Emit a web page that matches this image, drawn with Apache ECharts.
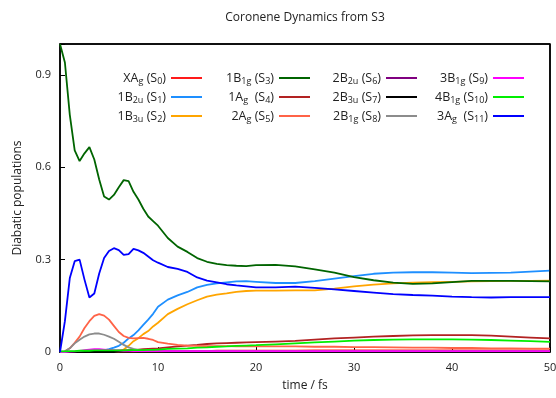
<!DOCTYPE html>
<html>
<head>
<meta charset="utf-8">
<script src="https://cdn.jsdelivr.net/npm/echarts@6/dist/echarts.min.js"></script>
<style>
html,body{margin:0;padding:0;background:#fff;}
#chart{width:556px;height:398px;}
</style>
</head>
<body>
<div id="chart"></div>
<script>
// time axis (fs)
var times = [0,0.5,1,1.5,2,2.5,3,3.5,4,4.5,5,5.5,6,6.5,7,7.5,8,8.5,9,9.5,10,11,12,13,14,15,16,17,18,19,20,22,24,26,28,30,32,34,36,38,40,42,44,46,48,50];

// diabatic populations per state
var s0 = [0,0,0,0,0,0,0,0,0,0,0.001,0.001,0.001,0.001,0.001,0.001,0.002,0.002,0.002,0.002,0.002,0.003,0.003,0.003,0.003,0.003,0.004,0.004,0.004,0.004,0.004,0.004,0.004,0.005,0.005,0.005,0.005,0.005,0.005,0.005,0.005,0.005,0.005,0.005,0.005,0.005];
var s1 = [0,0,0,0,0,0,0.001,0.001,0.002,0.005,0.009,0.014,0.02,0.03,0.044,0.055,0.07,0.088,0.105,0.124,0.147,0.17,0.184,0.195,0.21,0.218,0.223,0.226,0.229,0.23,0.228,0.224,0.224,0.23,0.238,0.246,0.254,0.258,0.259,0.259,0.258,0.256,0.257,0.258,0.261,0.264];
var s2 = [0,0,0,0,0,0,0,0,0,0,0,0,0.002,0.008,0.02,0.035,0.045,0.058,0.068,0.083,0.095,0.123,0.14,0.155,0.168,0.18,0.186,0.19,0.195,0.198,0.199,0.199,0.2,0.2,0.206,0.213,0.219,0.223,0.225,0.227,0.228,0.229,0.23,0.231,0.231,0.232];
var s3 = [1.0,0.94,0.77,0.655,0.62,0.645,0.665,0.625,0.56,0.505,0.495,0.51,0.535,0.558,0.555,0.52,0.495,0.465,0.44,0.425,0.41,0.37,0.342,0.325,0.305,0.293,0.286,0.282,0.28,0.279,0.282,0.283,0.278,0.268,0.258,0.243,0.233,0.225,0.221,0.223,0.227,0.231,0.231,0.231,0.23,0.229];
var s4 = [0,0,0,0,0.001,0.001,0.001,0.001,0.001,0.002,0.002,0.003,0.004,0.005,0.006,0.007,0.008,0.009,0.01,0.011,0.012,0.015,0.018,0.021,0.023,0.026,0.028,0.029,0.03,0.031,0.032,0.034,0.036,0.04,0.044,0.047,0.05,0.052,0.054,0.055,0.055,0.055,0.053,0.05,0.047,0.044];
var s5 = [0,0.002,0.012,0.03,0.05,0.078,0.1,0.117,0.123,0.118,0.105,0.085,0.065,0.052,0.046,0.044,0.045,0.046,0.043,0.039,0.032,0.027,0.023,0.021,0.02,0.019,0.019,0.019,0.018,0.018,0.018,0.018,0.018,0.017,0.017,0.016,0.016,0.015,0.014,0.014,0.013,0.013,0.012,0.012,0.011,0.011];
var s6 = [0,0,0,0,0.001,0.001,0.002,0.002,0.002,0.002,0.002,0.002,0.002,0.002,0.002,0.002,0.002,0.002,0.002,0.002,0.002,0.002,0.002,0.002,0.002,0.002,0.002,0.002,0.002,0.002,0.002,0.002,0.002,0.002,0.002,0.002,0.002,0.002,0.002,0.002,0.002,0.002,0.002,0.002,0.002,0.002];
var s7 = [0,0,0,0,0,0,0,0,0,0,0,0,0.001,0.001,0.001,0.001,0.001,0.001,0.001,0.001,0.001,0.001,0.001,0.001,0.001,0.001,0.001,0.001,0.001,0.001,0.001,0.001,0.001,0.001,0.001,0.001,0.001,0.001,0.001,0.001,0.001,0.001,0.001,0.001,0.001,0.001];
var s8 = [0,0.002,0.012,0.028,0.04,0.05,0.057,0.06,0.06,0.056,0.05,0.043,0.033,0.023,0.015,0.01,0.006,0.004,0.003,0.003,0.003,0.003,0.003,0.003,0.003,0.003,0.003,0.003,0.003,0.003,0.003,0.003,0.003,0.003,0.003,0.003,0.003,0.003,0.003,0.003,0.003,0.003,0.003,0.003,0.003,0.003];
var s9 = [0,0,0.001,0.002,0.004,0.006,0.008,0.009,0.009,0.008,0.007,0.006,0.005,0.004,0.004,0.003,0.003,0.003,0.003,0.003,0.003,0.003,0.003,0.003,0.003,0.003,0.003,0.003,0.003,0.003,0.003,0.003,0.003,0.003,0.003,0.003,0.003,0.003,0.003,0.003,0.003,0.003,0.003,0.003,0.003,0.003];
var s10 = [0.002,0.002,0.003,0.003,0.004,0.004,0.004,0.005,0.005,0.005,0.005,0.005,0.005,0.005,0.006,0.006,0.006,0.006,0.007,0.007,0.008,0.01,0.011,0.012,0.014,0.015,0.017,0.018,0.02,0.021,0.022,0.025,0.028,0.031,0.034,0.037,0.039,0.04,0.041,0.041,0.041,0.04,0.039,0.037,0.035,0.033];
var s11 = [0,0.1,0.24,0.295,0.3,0.235,0.177,0.19,0.255,0.305,0.328,0.337,0.331,0.315,0.318,0.335,0.33,0.322,0.31,0.298,0.29,0.276,0.27,0.26,0.242,0.232,0.226,0.22,0.216,0.213,0.21,0.21,0.212,0.208,0.203,0.198,0.193,0.188,0.185,0.183,0.18,0.178,0.177,0.178,0.178,0.178];

// legend labels (rich text markup for subscripts)
var stateLabels = [
  'XA{s|g} (S{s|0})', '1B{s|2u} (S{s|1})', '1B{s|3u} (S{s|2})',
  '1B{s|1g} (S{s|3})', '1A{s|g}  (S{s|4})', '2A{s|g} (S{s|5})',
  '2B{s|2u} (S{s|6})', '2B{s|3u} (S{s|7})', '2B{s|1g} (S{s|8})',
  '3B{s|1g} (S{s|9})', '4B{s|1g} (S{s|10})', '3A{s|g}  (S{s|11})'
];
var stateIds = ['S0','S1','S2','S3','S4','S5','S6','S7','S8','S9','S10','S11'];
var stateColors = ['#ff1a1a','#1e8fff','#ffa500','#006400','#b22222','#ff6347','#800080','#000000','#8c8c8c','#ff00ff','#00ee00','#0000ff'];
var xTicks = [0,10,20,30,40,50];
var yTicks = [0,0.3,0.6,0.9];
var xMax = 50, yMax = 1;

var allValues = [s0,s1,s2,s3,s4,s5,s6,s7,s8,s9,s10,s11];
var FONT = 'Open Sans';

var series = allValues.map(function(vals, i){
  var sr = {
    name: stateIds[i],
    type: 'line',
    showSymbol: false,
    symbol: 'none',
    data: times.map(function(t, j){ return [t, vals[j]]; }),
    lineStyle: {color: stateColors[i], width: 1.8},
    itemStyle: {color: stateColors[i]},
    z: 2 + i
  };
  if (i === allValues.length - 1) {
    // frame: top and right edges of the plot box
    sr.markLine = {
      silent: true,
      symbol: ['none', 'none'],
      label: {show: false},
      lineStyle: {type: 'solid', color: '#000', width: 1.5},
      animation: false,
      data: [{yAxis: yMax}, {xAxis: xMax}]
    };
  }
  return sr;
});

var colRight = [354, 246, 139, 32];
var rowTop = [70, 89, 108];
var legends = stateIds.map(function(id, i){
  var col = Math.floor(i / 3), row = i % 3;
  return {
    data: [id],
    right: colRight[col],
    top: rowTop[row],
    padding: 0,
    align: 'right',
    icon: 'rect',
    itemWidth: 31,
    itemHeight: 2,
    selectedMode: false,
    formatter: function(){ return stateLabels[i]; },
    textStyle: {
      fontFamily: FONT, fontSize: 12.5, color: '#222', lineHeight: 16,
      rich: {
        s: {fontFamily: FONT, fontSize: 9, color: '#222', lineHeight: 9, verticalAlign: 'bottom'}
      }
    }
  };
});

function yFmt(v){
  for (var k = 0; k < yTicks.length; k++) { if (Math.abs(yTicks[k] - v) < 1e-6) return String(yTicks[k]); }
  return '';
}
function xFmt(v){ return xTicks.indexOf(v) >= 0 ? String(v) : ''; }

// stage 1: plot box, axes, curves
var baseOption = {
  animation: false,
  grid: {left: 60, right: 6, top: 44, bottom: 46, outerBoundsMode: 'none',
         show: true, borderColor: '#000', borderWidth: 1.5},
  xAxis: {
    type: 'value', min: 0, max: xMax, interval: 10,
    axisLine: {show: true, onZero: false, lineStyle: {color: '#000', width: 1.5}},
    axisTick: {show: true, inside: true, length: 5, lineStyle: {color: '#000'}},
    axisLabel: {margin: 10, formatter: xFmt, fontFamily: FONT, fontSize: 11, color: '#222'},
    splitLine: {show: false}
  },
  yAxis: {
    type: 'value', min: 0, max: yMax, interval: 0.3,
    axisLine: {show: true, onZero: false, lineStyle: {color: '#000', width: 1.5}},
    axisTick: {show: true, inside: true, length: 5, lineStyle: {color: '#000'}},
    axisLabel: {margin: 9, formatter: yFmt, fontFamily: FONT, fontSize: 11, color: '#222'},
    splitLine: {show: false}
  },
  series: series
};

// stage 2: title and axis names
var textOption = {
  title: {
    text: 'Coronene Dynamics from S3',
    left: 305, textAlign: 'center', top: 12, padding: 0,
    textStyle: {fontFamily: FONT, fontSize: 12, fontWeight: 'normal', color: '#222'}
  },
  xAxis: {
    name: 'time / fs', nameLocation: 'middle', nameGap: 28,
    nameTextStyle: {fontFamily: FONT, fontSize: 12, color: '#222'}
  },
  yAxis: {
    name: 'Diabatic populations', nameLocation: 'middle', nameGap: 36,
    nameTextStyle: {fontFamily: FONT, fontSize: 12, color: '#222'}
  }
};

// stage 3: legend
var legendOption = {legend: legends};

var chart = echarts.init(document.getElementById('chart'));
function safeSet(o){
  try { chart.setOption(o); }
  catch (e) { try { chart.__flagInMainProcess = false; } catch (e2) {} }
}
safeSet(baseOption);
safeSet(textOption);
safeSet(legendOption);
</script>
</body>
</html>
